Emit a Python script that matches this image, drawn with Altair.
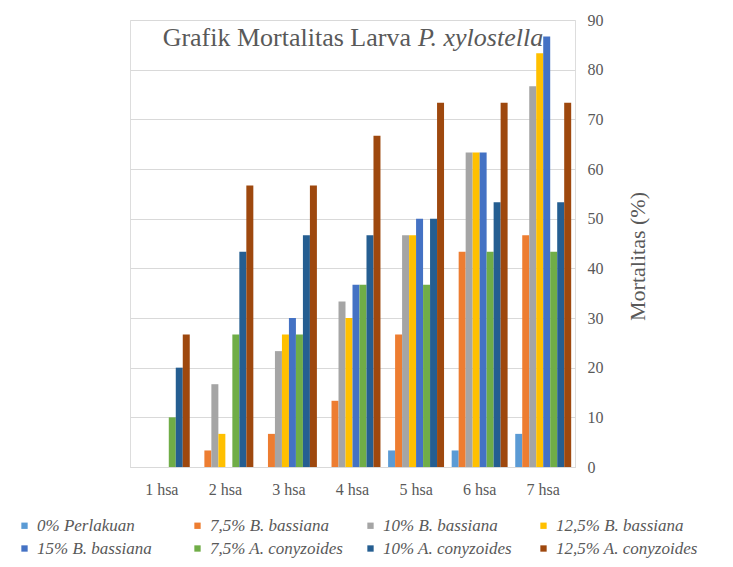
import altair as alt
import pandas as pd

categories = ["1 hsa", "2 hsa", "3 hsa", "4 hsa", "5 hsa", "6 hsa", "7 hsa"]
series = ["0% Perlakuan", "7,5% B. bassiana", "10% B. bassiana", "12,5% B. bassiana",
          "15% B. bassiana", "7,5% A. conyzoides", "10% A. conyzoides", "12,5% A. conyzoides"]
colors = ["#5B9BD5", "#ED7D31", "#A5A5A5", "#FFC000", "#4472C4", "#70AD47", "#255E91", "#9E480E"]

v_0 = [0, 0, 0, 0, 3.33, 3.33, 6.67]
v_75b = [0, 3.33, 6.67, 13.33, 26.67, 43.33, 46.67]
v_10b = [0, 16.67, 23.33, 33.33, 46.67, 63.33, 76.67]
v_125b = [0, 6.67, 26.67, 30, 46.67, 63.33, 83.33]
v_15b = [0, 0, 30, 36.67, 50, 63.33, 86.67]
v_75a = [10, 26.67, 26.67, 36.67, 36.67, 43.33, 43.33]
v_10a = [20, 43.33, 46.67, 46.67, 50, 53.33, 53.33]
v_125a = [26.67, 56.67, 56.67, 66.67, 73.33, 73.33, 73.33]

values = [v_0, v_75b, v_10b, v_125b, v_15b, v_75a, v_10a, v_125a]
rows = []
for s, vals in zip(series, values):
    for c, v in zip(categories, vals):
        rows.append({"hari": c, "perlakuan": s, "mortalitas": v})
df = pd.DataFrame(rows)

SERIF = "'Liberation Serif', 'Times New Roman', serif"
GRAY = "#595959"

bars = alt.Chart(df).mark_bar().encode(
    x=alt.X("hari:N", sort=categories,
            scale=alt.Scale(paddingInner=0.12, paddingOuter=0.06),
            axis=alt.Axis(title=None, labelAngle=0, ticks=False, labelFont=SERIF,
                          labelFontSize=16, labelColor=GRAY, labelPadding=14,
                          domainColor="#D9D9D9", grid=False)),
    xOffset=alt.XOffset("perlakuan:N", sort=series),
    y=alt.Y("mortalitas:Q", scale=alt.Scale(domain=[0, 90], nice=False),
            axis=alt.Axis(orient="right", values=list(range(0, 91, 10)), title="Mortalitas (%)",
                          titleAngle=270, titleFont=SERIF, titleFontSize=22, titleFontWeight="normal",
                          titleColor=GRAY, titlePadding=46, titleY=236, labelFont=SERIF,
                          labelFontSize=16, labelColor=GRAY, labelPadding=12, ticks=False,
                          domain=False, gridColor="#D9D9D9", gridWidth=1)),
    color=alt.Color("perlakuan:N", sort=series,
                    scale=alt.Scale(domain=series, range=colors),
                    legend=alt.Legend(title=None, orient="none", legendX=-114, legendY=497,
                                      direction="horizontal", columns=4, gridAlign="all",
                                      symbolType="square", symbolSize=40, labelFont=SERIF,
                                      labelFontStyle="italic", labelFontSize=17, labelColor=GRAY,
                                      columnPadding=10, rowPadding=5, symbolStrokeWidth=0)),
)

title_df = pd.DataFrame({"t1": ["Grafik Mortalitas Larva"], "t2": ["P. xylostella"]})
t1 = alt.Chart(title_df).mark_text(font=SERIF, fontSize=26, color=GRAY, align="right",
                                   baseline="middle").encode(
    text="t1:N", x=alt.value(281), y=alt.value(18))
t2 = alt.Chart(title_df).mark_text(font=SERIF, fontSize=26, fontStyle="italic", color=GRAY,
                                   align="left", baseline="middle").encode(
    text="t2:N", x=alt.value(288), y=alt.value(18))

chart = alt.layer(bars, t1, t2).properties(
    width=445, height=447,
    padding={"left": 122, "top": 12, "right": 150, "bottom": 92},
    autosize=alt.AutoSizeParams(type="none"),
).configure_view(stroke=None).configure(background="white")

chart.save("out.html", embed_options={"renderer": "svg", "actions": False})
